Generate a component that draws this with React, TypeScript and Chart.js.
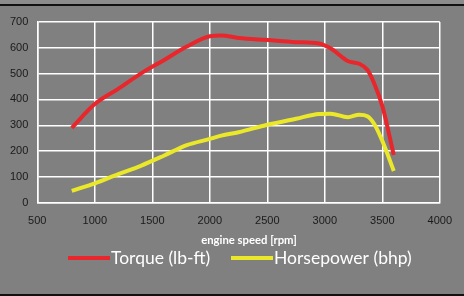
import React, { useEffect, useRef } from "react";
import { Chart, registerables } from "chart.js";

Chart.register(...registerables);

const rpm = [800, 1000, 1200, 1400, 1600, 1800, 2000, 2100, 2250, 2500, 2750, 2950, 3050, 3200, 3300, 3370, 3430, 3500, 3600];
const torque = [290, 382, 440, 500, 552, 605, 645, 648, 638, 630, 622, 617, 598, 549, 538, 515, 462, 375, 185];
const horsepower = [46, 75, 110, 143, 182, 223, 247, 260, 273, 302, 325, 344, 345, 331, 341, 335, 305, 240, 123];
const seriesNames = ["Torque (lb-ft)", "Horsepower (bhp)"];
const seriesColors = ["#e8262c", "#ebe82a"];
const xTitle = "engine speed [rpm]";

const legendPlugin = {
  id: "customLegend",
  afterDraw(chart: any) {
    const ctx = chart.ctx;
    const starts = [68, 231];
    ctx.save();
    ctx.textBaseline = "middle";
    ctx.font = "bold 11.3px Lato";
    ctx.fillStyle = "#ffffff";
    ctx.textAlign = "center";
    ctx.fillText(xTitle, 249, 240);
    ctx.textAlign = "left";
    ctx.font = "17.5px Lato";
    chart.data.datasets.forEach((ds: any, i: number) => {
      const x = starts[i];
      ctx.fillStyle = ds.borderColor;
      ctx.fillRect(x, 256, 42, 4);
      ctx.fillStyle = "#ffffff";
      ctx.fillText(ds.label, x + 43, 258);
    });
    ctx.restore();
  },
};

export default function App() {
  const ref = useRef<HTMLCanvasElement>(null);
  useEffect(() => {
    if (!ref.current) return;
    const chart = new Chart(ref.current, {
      type: "line",
      data: {
        datasets: [
          {
            label: seriesNames[0],
            data: rpm.map((x, i) => ({ x, y: torque[i] })),
            borderColor: seriesColors[0],
            backgroundColor: seriesColors[0],
            borderWidth: 4,
            pointRadius: 0,
            cubicInterpolationMode: "monotone",
          },
          {
            label: seriesNames[1],
            data: rpm.map((x, i) => ({ x, y: horsepower[i] })),
            borderColor: seriesColors[1],
            backgroundColor: seriesColors[1],
            borderWidth: 4,
            pointRadius: 0,
            cubicInterpolationMode: "monotone",
          },
        ],
      },
      plugins: [legendPlugin],
      options: {
        responsive: false,
        animation: false,
        layout: { padding: { top: 22, right: 16, left: 0, bottom: 0 } },
        plugins: { legend: { display: false }, tooltip: { enabled: false } },
        scales: {
          x: {
            type: "linear",
            min: 500,
            max: 4000,
            ticks: {
              stepSize: 500,
              color: "#1a1a1a",
              font: { family: "Liberation Sans", size: 11 },
              padding: 12,
              maxRotation: 0,
              callback: (v: any) => String(v),
            },
            grid: { color: "#ffffff", lineWidth: 1.5, drawTicks: false },
            border: { color: "#ffffff", width: 1.5 },
            afterFit: (s: any) => { s.height = 93.3; },
          },
          y: {
            min: 0,
            max: 700,
            ticks: { stepSize: 100, color: "#1a1a1a", font: { family: "Liberation Sans", size: 11 }, padding: 9 },
            grid: { color: "#ffffff", lineWidth: 1.5, drawTicks: false },
            border: { color: "#ffffff", width: 1.5 },
            afterFit: (s: any) => { s.width = 37.3; },
          },
        },
      },
    });
    return () => chart.destroy();
  }, []);
  return (
    <div style={{ position: "fixed", left: 0, top: 0, width: 464, height: 296, background: "#808080" }}>
      <div style={{ position: "absolute", left: 0, top: 0, width: 464, height: 4, background: "#8c8c8c" }} />
      <div style={{ position: "absolute", left: 0, top: 4, width: 464, height: 2, background: "#111" }} />
      <div style={{ position: "absolute", left: 0, top: 294, width: 464, height: 2, background: "#111" }} />
      <canvas ref={ref} width={464} height={296} style={{ position: "absolute", left: 0, top: 0 }} />
    </div>
  );
}
